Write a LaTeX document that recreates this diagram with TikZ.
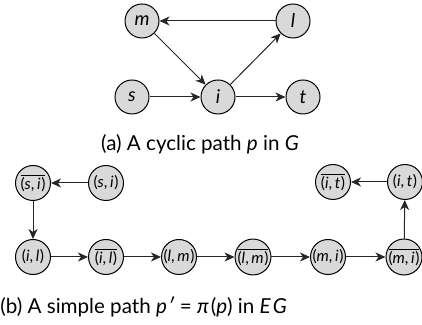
\documentclass[tikz,border=0pt]{standalone}
\usepackage{fontspec}
\setmainfont{Lato}
\usetikzlibrary{arrows.meta}
\tikzset{
  vtx/.style={circle,draw=black,line width=0.5pt,fill=black!15,minimum size=17pt,inner sep=0pt,font=\fontsize{9.5}{10}\selectfont\itshape},
  evtx/.style={circle,draw=black,line width=0.5pt,fill=black!15,minimum size=17.5pt,inner sep=0pt,font=\fontsize{7.8}{8}\selectfont},
  edge/.style={draw=black!85,line width=0.5pt,-{Stealth[length=5pt,width=4.5pt,inset=1.5pt]}},
  captxt/.style={font=\fontsize{10.3}{12}\selectfont,inner sep=0pt}
}
\newcommand{\ob}[1]{$\overline{\mbox{#1}}$}
\newcommand{\pr}[2]{(\textit{#1},\,\textit{#2}\kern0.3pt)}
\begin{document}
\begin{tikzpicture}[x=0.5pt,y=-0.5pt]
\useasboundingbox (0,0) rectangle (422,325);
% (a)
\node[vtx] (m) at (142,21) {m};
\node[vtx] (l) at (293,21) {l};
\node[vtx] (s) at (132,97) {s};
\node[vtx] (i) at (218,97) {i};
\node[vtx] (t) at (303,97) {t};
\draw[edge] (l) -- (m);
\draw[edge] (m) -- (i);
\draw[edge] (s) -- (i);
\draw[edge] (i) -- (l);
\draw[edge] (i) -- (t);
\node[captxt] (capa) at (200,144) {(a) A cyclic path \textit{p} in \textit{G}};
% (b)
\node[evtx] (sib) at (33,183) {\ob{\pr{s}{i}}};
\node[evtx] (si) at (106,183) {\pr{s}{i}};
\node[evtx] (itb) at (333,182) {\ob{\pr{i}{t}}};
\node[evtx] (it) at (405,182) {\pr{i}{t}};
\node[evtx] (il) at (33,257) {\pr{i}{l}};
\node[evtx] (ilb) at (106,257) {\ob{\pr{i}{l}}};
\node[evtx] (lm) at (179,257) {\pr{l}{m}};
\node[evtx] (lmb) at (253,257) {\ob{\pr{l}{m}}};
\node[evtx] (mi) at (328,257) {\pr{m}{i}};
\node[evtx] (mib) at (404,257) {\ob{\pr{m}{i}}};
\draw[edge] (si) -- (sib);
\draw[edge] (sib) -- (il);
\draw[edge] (il) -- (ilb);
\draw[edge] (ilb) -- (lm);
\draw[edge] (lm) -- (lmb);
\draw[edge] (lmb) -- (mi);
\draw[edge] (mi) -- (mib);
\draw[edge] (mib) -- (it);
\draw[edge] (it) -- (itb);
\node[captxt,anchor=west] (capb) at (0,307) {(b) A simple path \textit{p}\kern0.5pt\textit{′} = \textit{π}\kern1pt(\textit{p}) in \textit{E\kern1pt G}};
\end{tikzpicture}
\end{document}
